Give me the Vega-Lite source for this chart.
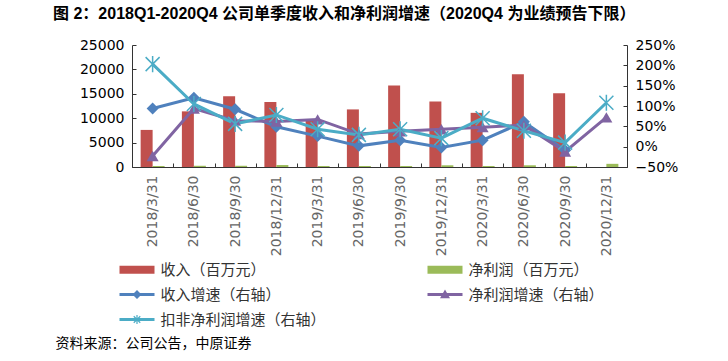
{
  "$schema": "https://vega.github.io/schema/vega-lite/v6.json",
  "width": 495,
  "height": 122,
  "autosize": {"type": "none"},
  "padding": {"left": 132, "top": 45, "right": 101, "bottom": 194},
  "background": "white",
  "config": {
    "view": {"stroke": null},
    "axis": {"grid": false},
    "font": "Liberation Sans, Noto Sans CJK SC"
  },
  "title": {
    "text": "图 2：2018Q1-2020Q4 公司单季度收入和净利润增速（2020Q4 为业绩预告下限）",
    "anchor": "start",
    "frame": "group",
    "dx": -79,
    "offset": 16,
    "font": "Liberation Sans, Noto Sans CJK SC",
    "fontSize": 16,
    "fontWeight": "bold",
    "color": "#000000"
  },
  "data": {
    "values": [
      {"date": "2018/3/31", "series": "收入（百万元）", "value": 7600},
      {"date": "2018/6/30", "series": "收入（百万元）", "value": 11400},
      {"date": "2018/9/30", "series": "收入（百万元）", "value": 14500},
      {"date": "2018/12/31", "series": "收入（百万元）", "value": 13300},
      {"date": "2019/3/31", "series": "收入（百万元）", "value": 9600},
      {"date": "2019/6/30", "series": "收入（百万元）", "value": 11800},
      {"date": "2019/9/30", "series": "收入（百万元）", "value": 16700},
      {"date": "2019/12/31", "series": "收入（百万元）", "value": 13400},
      {"date": "2020/3/31", "series": "收入（百万元）", "value": 11100},
      {"date": "2020/6/30", "series": "收入（百万元）", "value": 19000},
      {"date": "2020/9/30", "series": "收入（百万元）", "value": 15100},
      {"date": "2018/3/31", "series": "净利润（百万元）", "value": 200},
      {"date": "2018/6/30", "series": "净利润（百万元）", "value": 250},
      {"date": "2018/9/30", "series": "净利润（百万元）", "value": 250},
      {"date": "2018/12/31", "series": "净利润（百万元）", "value": 400},
      {"date": "2019/3/31", "series": "净利润（百万元）", "value": 200},
      {"date": "2019/6/30", "series": "净利润（百万元）", "value": 200},
      {"date": "2019/9/30", "series": "净利润（百万元）", "value": 200},
      {"date": "2019/12/31", "series": "净利润（百万元）", "value": 350},
      {"date": "2020/3/31", "series": "净利润（百万元）", "value": 200},
      {"date": "2020/6/30", "series": "净利润（百万元）", "value": 350},
      {"date": "2020/9/30", "series": "净利润（百万元）", "value": 200},
      {"date": "2020/12/31", "series": "净利润（百万元）", "value": 650},
      {"date": "2018/3/31", "series": "收入增速（右轴）", "value": 0.94},
      {"date": "2018/6/30", "series": "收入增速（右轴）", "value": 1.20},
      {"date": "2018/9/30", "series": "收入增速（右轴）", "value": 0.92},
      {"date": "2018/12/31", "series": "收入增速（右轴）", "value": 0.49},
      {"date": "2019/3/31", "series": "收入增速（右轴）", "value": 0.26},
      {"date": "2019/6/30", "series": "收入增速（右轴）", "value": 0.02},
      {"date": "2019/9/30", "series": "收入增速（右轴）", "value": 0.16},
      {"date": "2019/12/31", "series": "收入增速（右轴）", "value": -0.02},
      {"date": "2020/3/31", "series": "收入增速（右轴）", "value": 0.16},
      {"date": "2020/6/30", "series": "收入增速（右轴）", "value": 0.61},
      {"date": "2020/9/30", "series": "收入增速（右轴）", "value": -0.09},
      {"date": "2018/3/31", "series": "净利润增速（右轴）", "value": -0.23},
      {"date": "2018/6/30", "series": "净利润增速（右轴）", "value": 0.94},
      {"date": "2018/9/30", "series": "净利润增速（右轴）", "value": 0.64},
      {"date": "2018/12/31", "series": "净利润增速（右轴）", "value": 0.62},
      {"date": "2019/3/31", "series": "净利润增速（右轴）", "value": 0.67},
      {"date": "2019/6/30", "series": "净利润增速（右轴）", "value": 0.31},
      {"date": "2019/9/30", "series": "净利润增速（右轴）", "value": 0.38},
      {"date": "2019/12/31", "series": "净利润增速（右轴）", "value": 0.43},
      {"date": "2020/3/31", "series": "净利润增速（右轴）", "value": 0.48},
      {"date": "2020/6/30", "series": "净利润增速（右轴）", "value": 0.53},
      {"date": "2020/9/30", "series": "净利润增速（右轴）", "value": -0.12},
      {"date": "2020/12/31", "series": "净利润增速（右轴）", "value": 0.72},
      {"date": "2018/3/31", "series": "扣非净利润增速（右轴）", "value": 2.03},
      {"date": "2018/6/30", "series": "扣非净利润增速（右轴）", "value": 1.05},
      {"date": "2018/9/30", "series": "扣非净利润增速（右轴）", "value": 0.56},
      {"date": "2018/12/31", "series": "扣非净利润增速（右轴）", "value": 0.78},
      {"date": "2019/3/31", "series": "扣非净利润增速（右轴）", "value": 0.43},
      {"date": "2019/6/30", "series": "扣非净利润增速（右轴）", "value": 0.29},
      {"date": "2019/9/30", "series": "扣非净利润增速（右轴）", "value": 0.43},
      {"date": "2019/12/31", "series": "扣非净利润增速（右轴）", "value": 0.21},
      {"date": "2020/3/31", "series": "扣非净利润增速（右轴）", "value": 0.70},
      {"date": "2020/6/30", "series": "扣非净利润增速（右轴）", "value": 0.39},
      {"date": "2020/9/30", "series": "扣非净利润增速（右轴）", "value": 0.10},
      {"date": "2020/12/31", "series": "扣非净利润增速（右轴）", "value": 1.08}
    ]
  },
  "encoding": {
    "x": {
      "field": "date", "type": "nominal",
      "scale": {"domain": ["2018/3/31","2018/6/30","2018/9/30","2018/12/31","2019/3/31","2019/6/30","2019/9/30","2019/12/31","2020/3/31","2020/6/30","2020/9/30","2020/12/31"], "paddingInner": 0, "paddingOuter": 0},
      "axis": {
        "title": "资料来源：公司公告，中原证券",
        "titleX": -77, "titleY": 176, "titleAlign": "left", "titleBaseline": "middle", "titleAngle": 0,
        "titleFont": "Noto Sans CJK SC", "titleFontSize": 14, "titleFontWeight": "normal", "titleColor": "#000000",
        "labelAngle": 270, "labelFont": "DejaVu Sans", "labelFontSize": 14, "labelColor": "#666666",
        "labelPadding": 12, "tickBand": "extent", "tickSize": -4, "tickColor": "#333333",
        "domainColor": "#333333"
      }
    }
  },
  "layer": [
    {
      "transform": [{"filter": {"field": "series", "oneOf": ["收入（百万元）", "净利润（百万元）"]}}],
      "mark": {"type": "bar"},
      "encoding": {
        "xOffset": {"field": "series", "type": "nominal", "scale": {"domain": ["收入（百万元）", "净利润（百万元）"], "paddingInner": 0, "paddingOuter": 0.72}},
        "y": {
          "field": "value", "type": "quantitative",
          "scale": {"domain": [0, 25000], "nice": false},
          "axis": {"title": null, "orient": "left", "values": [0, 5000, 10000, 15000, 20000, 25000], "format": "d", "labelFont": "DejaVu Sans", "labelFontSize": 14, "labelColor": "#000000", "tickSize": -4, "labelPadding": 12, "domainColor": "#333333", "tickColor": "#333333"}
        },
        "color": {
          "field": "series", "type": "nominal",
          "scale": {"domain": ["收入（百万元）", "净利润（百万元）", "收入增速（右轴）", "净利润增速（右轴）", "扣非净利润增速（右轴）"], "range": ["#C0504D", "#9BBB59", "#4F81BD", "#8064A2", "#4BACC6"]},
          "legend": {
            "title": null, "orient": "none", "legendX": -2.5, "legendY": 217, "columns": 2, "direction": "horizontal",
            "columnPadding": 101, "rowPadding": 9, "symbolSize": 100, "labelLimit": 400,
            "labelFont": "Noto Sans CJK SC", "labelFontSize": 15, "labelColor": "#333333", "labelOffset": 16,
            "encode": {
              "symbols": {
                "update": {
                  "shape": {"signal": "['M-3.5,-0.8H3.5V0.8H-3.5Z','M-3.5,-0.8H3.5V0.8H-3.5Z','M-3.5,-0.3H3.5V0.3H-3.5Z M0,-0.9L0.9,0L0,0.9L-0.9,0Z','M-3.5,-0.3H3.5V0.3H-3.5Z M0,-1L1,0.75L-1,0.75Z','M-3.5,-0.3H3.5V0.3H-3.5Z M-0.12,-0.9H0.12V0.9H-0.12Z M-0.565,-0.735L0.735,0.565L0.565,0.735L-0.735,-0.565Z M0.565,-0.735L0.735,-0.565L-0.565,0.735L-0.735,0.565Z'][indexof(['收入（百万元）','净利润（百万元）','收入增速（右轴）','净利润增速（右轴）','扣非净利润增速（右轴）'], datum.value)]"},
                  "fill": {"scale": "color", "field": "value"},
                  "stroke": {"value": "transparent"},
                  "strokeWidth": {"value": 0},
                  "opacity": {"value": 1}
                }
              }
            }
          }
        }
      }
    },
    {
      "transform": [{"filter": {"field": "series", "oneOf": ["收入增速（右轴）", "净利润增速（右轴）", "扣非净利润增速（右轴）"]}}],
      "encoding": {
        "y": {
          "field": "value", "type": "quantitative",
          "scale": {"domain": [-0.5, 2.5], "nice": false},
          "axis": {"title": null, "orient": "right", "values": [-0.5, 0, 0.5, 1, 1.5, 2, 2.5], "format": ".0%", "labelFont": "DejaVu Sans", "labelFontSize": 14, "labelColor": "#000000", "tickSize": -4, "labelPadding": 12, "domainColor": "#333333", "tickColor": "#333333"}
        }
      },
      "layer": [
        {
          "mark": {"type": "line", "strokeWidth": 3},
          "encoding": {"color": {"field": "series", "type": "nominal"}}
        },
        {
          "transform": [{"filter": "datum.series === '收入增速（右轴）'"}],
          "mark": {"type": "point", "shape": "diamond", "filled": true, "size": 144, "color": "#4F81BD", "opacity": 1}
        },
        {
          "transform": [{"filter": "datum.series === '净利润增速（右轴）'"}],
          "mark": {"type": "point", "shape": "triangle-up", "filled": true, "size": 144, "color": "#8064A2", "opacity": 1}
        },
        {
          "transform": [{"filter": "datum.series === '扣非净利润增速（右轴）'"}],
          "mark": {"type": "point", "shape": "M-1,-1L1,1M-1,1L1,-1M0,-1.15L0,1.15", "filled": false, "size": 196, "color": "#4BACC6", "strokeWidth": 1.5, "opacity": 1}
        }
      ]
    }
  ],
  "resolve": {"scale": {"y": "independent"}}
}
